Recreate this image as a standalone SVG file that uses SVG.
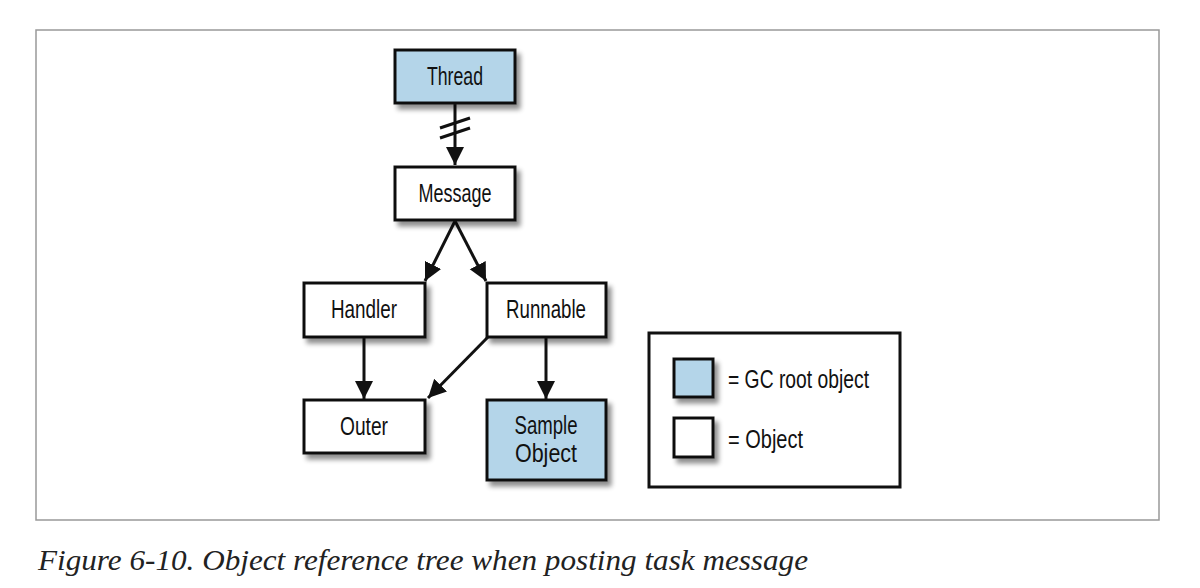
<svg xmlns="http://www.w3.org/2000/svg" width="1200" height="588" viewBox="0 0 1200 588">
<defs>
<style>
.box{stroke:#111;stroke-width:3;filter:url(#sh)}
.obj{fill:#fff}
.root{fill:#b4d5e9}
.lbl{font-family:"Liberation Sans",Arial,sans-serif;font-size:25px;fill:#111;text-anchor:middle}
.leg{font-family:"Liberation Sans",Arial,sans-serif;font-size:25px;fill:#111}
.edge{stroke:#111;stroke-width:3;fill:none}
.cap{font-family:"Liberation Serif","Times New Roman",serif;font-style:italic;font-size:30px;fill:#222}
</style>
<filter id="sh" x="-20%" y="-20%" width="150%" height="160%">
<feGaussianBlur in="SourceAlpha" stdDeviation="2.5"/>
<feOffset dx="4" dy="5" result="b"/>
<feComponentTransfer><feFuncA type="linear" slope="0.45"/></feComponentTransfer>
<feMerge><feMergeNode/><feMergeNode in="SourceGraphic"/></feMerge>
</filter>
<marker id="ah" markerUnits="userSpaceOnUse" markerWidth="20" markerHeight="20" viewBox="0 0 20 20" refX="18" refY="10" orient="auto">
<path d="M0,1 L18,10 L0,19 Z" fill="#111"/>
</marker>
</defs>
<rect x="36" y="30" width="1123" height="490" fill="#fff" stroke="#999" stroke-width="1.5"/>
<g id="connectors">
<line class="edge" x1="455" y1="103" x2="455" y2="165" marker-end="url(#ah)"/>
<line class="edge" x1="440" y1="128" x2="470" y2="118"/>
<line class="edge" x1="440" y1="138" x2="470" y2="128"/>
<line class="edge" x1="455" y1="221" x2="425" y2="281" marker-end="url(#ah)"/>
<line class="edge" x1="455" y1="221" x2="486" y2="281" marker-end="url(#ah)"/>
<line class="edge" x1="364" y1="337" x2="364" y2="399" marker-end="url(#ah)"/>
<line class="edge" x1="546" y1="337" x2="546" y2="399" marker-end="url(#ah)"/>
<line class="edge" x1="488" y1="337" x2="428" y2="398" marker-end="url(#ah)"/>
</g>
<g id="thread">
<rect class="box root" x="395" y="50" width="120" height="53"/>
<text class="lbl" x="455" y="85" textLength="56" lengthAdjust="spacingAndGlyphs">Thread</text>
</g>
<g id="message">
<rect class="box obj" x="395" y="167" width="120" height="53"/>
<text class="lbl" x="455" y="202" textLength="73" lengthAdjust="spacingAndGlyphs">Message</text>
</g>
<g id="handler">
<rect class="box obj" x="304" y="283" width="121" height="54"/>
<text class="lbl" x="364" y="318" textLength="66" lengthAdjust="spacingAndGlyphs">Handler</text>
</g>
<g id="runnable">
<rect class="box obj" x="487" y="283" width="119" height="54"/>
<text class="lbl" x="546" y="318" textLength="80" lengthAdjust="spacingAndGlyphs">Runnable</text>
</g>
<g id="outer">
<rect class="box obj" x="304" y="400" width="121" height="53"/>
<text class="lbl" x="364" y="435" textLength="48" lengthAdjust="spacingAndGlyphs">Outer</text>
</g>
<g id="sample">
<rect class="box root" x="487" y="400" width="119" height="80"/>
<text class="lbl" x="546" y="434" textLength="63" lengthAdjust="spacingAndGlyphs">Sample</text>
<text class="lbl" x="546" y="462" textLength="62" lengthAdjust="spacingAndGlyphs">Object</text>
</g>
<g id="legend">
<rect x="649" y="333" width="251" height="154" fill="#fff" stroke="#111" stroke-width="3"/>
<rect class="box root" x="674" y="359" width="39" height="38"/>
<text class="leg" x="728" y="388" textLength="141" lengthAdjust="spacingAndGlyphs">= GC root object</text>
<rect class="box obj" x="674" y="418" width="39" height="39"/>
<text class="leg" x="728" y="448" textLength="75" lengthAdjust="spacingAndGlyphs">= Object</text>
</g>
<text class="cap" x="38" y="570" textLength="770" lengthAdjust="spacingAndGlyphs">Figure 6-10. Object reference tree when posting task message</text>
</svg>
